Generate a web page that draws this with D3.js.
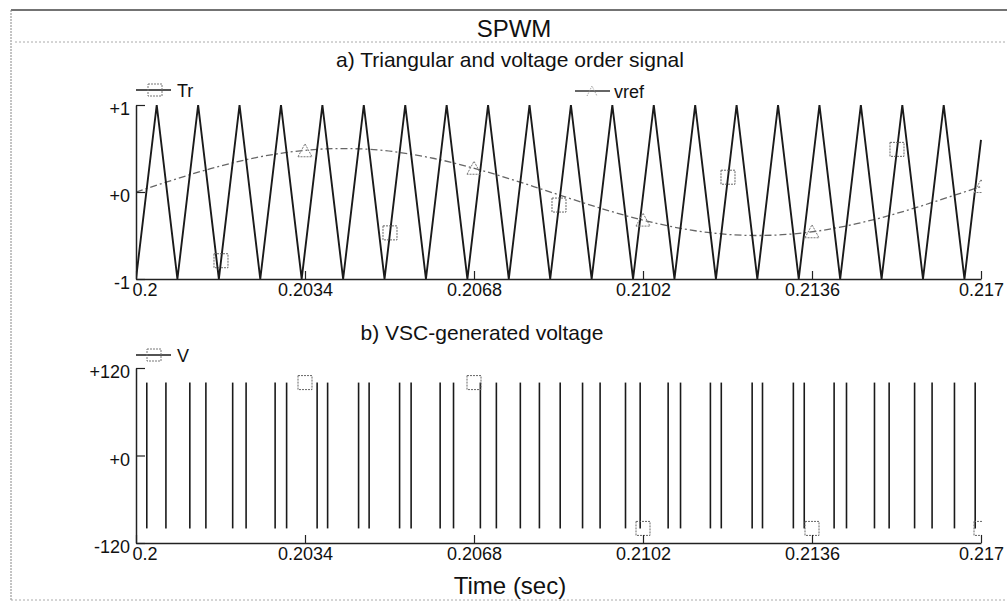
<!DOCTYPE html>
<html>
<head>
<meta charset="utf-8">
<script src="https://cdn.jsdelivr.net/npm/d3@7"></script>
<style>
  body { margin: 0; background: #fff; }
  svg text { font-family: "Liberation Sans", Arial, sans-serif; fill: #111; }
</style>
</head>
<body>
<div id="chart"></div>
<script>
// x axis (seconds)
const timeTicks = [0.2, 0.2034, 0.2068, 0.2102, 0.2136, 0.217];
const timeTickLabels = ["0.2", "0.2034", "0.2068", "0.2102", "0.2136", "0.217"];

// a) triangular carrier: corner points
const triT = [0.2, 0.200417, 0.200833, 0.20125, 0.201667, 0.202083, 0.2025, 0.202917, 0.203333, 0.20375,
  0.204167, 0.204583, 0.205, 0.205417, 0.205833, 0.20625, 0.206667, 0.207083, 0.2075, 0.207917,
  0.208333, 0.20875, 0.209167, 0.209583, 0.21, 0.210417, 0.210833, 0.21125, 0.211667, 0.212083,
  0.2125, 0.212917, 0.213333, 0.21375, 0.214167, 0.214583, 0.215, 0.215417, 0.215833, 0.21625,
  0.216667, 0.217];
const triV = [-1, 1, -1, 1, -1, 1, -1, 1, -1, 1,
  -1, 1, -1, 1, -1, 1, -1, 1, -1, 1,
  -1, 1, -1, 1, -1, 1, -1, 1, -1, 1,
  -1, 1, -1, 1, -1, 1, -1, 1, -1, 1,
  -1, 0.6];

// a) voltage order signal
const vrefT = [0.2, 0.2005, 0.201, 0.2015, 0.202, 0.2025, 0.203, 0.2035, 0.204, 0.2045,
  0.205, 0.2055, 0.206, 0.2065, 0.207, 0.2075, 0.208, 0.2085, 0.209, 0.2095,
  0.21, 0.2105, 0.211, 0.2115, 0.212, 0.2125, 0.213, 0.2135, 0.214, 0.2145,
  0.215, 0.2155, 0.216, 0.2165, 0.217];
const vrefV = [0, 0.094, 0.184, 0.268, 0.342, 0.405, 0.452, 0.484, 0.499, 0.496,
  0.476, 0.438, 0.385, 0.319, 0.241, 0.155, 0.063, -0.031, -0.124, -0.213,
  -0.294, -0.364, -0.422, -0.465, -0.491, -0.5, -0.491, -0.465, -0.422, -0.364,
  -0.294, -0.213, -0.124, -0.031, 0.063];

// marker positions
const trMarkT = [0.20171, 0.20511, 0.20851, 0.21191, 0.21531];
const trMarkV = [-0.79, -0.47, -0.15, 0.17, 0.49];
const vrefMarkT = [0.2034, 0.2068, 0.2102, 0.2136, 0.217];
const vrefMarkV = [0.474, 0.273, -0.323, -0.457, 0.063];

// b) VSC output: switching instants between +100 and -100
const vHigh = 100;
const vLow = -100;
const vEdges = [0.200217, 0.200602, 0.201083, 0.201406, 0.201945, 0.202215, 0.202799, 0.20303,
  0.203644, 0.203855, 0.204478, 0.20469, 0.205303, 0.205535, 0.206119, 0.206388,
  0.206928, 0.20725, 0.207732, 0.208116, 0.208534, 0.208984, 0.209337, 0.209848,
  0.210143, 0.210706, 0.210955, 0.211556, 0.211775, 0.212396, 0.212604, 0.213225,
  0.213444, 0.214045, 0.214294, 0.214857, 0.215152, 0.215664, 0.216016, 0.216466,
  0.216883];
const vMarkT = [0.2034, 0.2068, 0.2102, 0.2136, 0.217];
const vMarkV = [100, 100, -100, -100, -100];

(() => {
  const W = 1007, H = 603;
  const svg = d3.select("#chart").append("svg")
    .attr("width", W)
    .attr("height", H);

  const x = d3.scaleLinear().domain([0.2, 0.217]).range([136, 981]);
  const yA = d3.scaleLinear().domain([-1, 1]).range([279, 105]);
  const yB = d3.scaleLinear().domain([-120, 120]).range([543, 368]);

  // frame
  svg.append("line").attr("x1", 11).attr("x2", W).attr("y1", 10).attr("y2", 10)
    .attr("stroke", "#444").attr("stroke-width", 1.5);
  svg.append("line").attr("x1", 15).attr("x2", W).attr("y1", 42).attr("y2", 42)
    .attr("stroke", "#aaa").attr("stroke-dasharray", "2 2");
  svg.append("line").attr("x1", 11).attr("x2", 11).attr("y1", 10).attr("y2", 600)
    .attr("stroke", "#888").attr("stroke-dasharray", "2 1");
  svg.append("line").attr("x1", 11).attr("x2", W).attr("y1", 600).attr("y2", 600)
    .attr("stroke", "#aaa").attr("stroke-dasharray", "2 2");

  // titles
  svg.append("text").attr("x", 514).attr("y", 37).attr("text-anchor", "middle")
    .style("font-size", "24px").text("SPWM");
  svg.append("text").attr("x", 510).attr("y", 67).attr("text-anchor", "middle")
    .style("font-size", "21px").text("a) Triangular and voltage order signal");
  svg.append("text").attr("x", 482).attr("y", 340).attr("text-anchor", "middle")
    .style("font-size", "21px").text("b) VSC-generated voltage");
  svg.append("text").attr("x", 510).attr("y", 594).attr("text-anchor", "middle")
    .style("font-size", "24px").text("Time (sec)");

  const defs = svg.append("defs");
  defs.append("clipPath").attr("id", "clipA").append("rect")
    .attr("x", 136).attr("y", 95).attr("width", 846).attr("height", 195);
  defs.append("clipPath").attr("id", "clipB").append("rect")
    .attr("x", 136).attr("y", 360).attr("width", 846).attr("height", 190);

  function drawAxes(y, yTicks, yLabels) {
    const gx = svg.append("g")
      .attr("transform", `translate(0,${y.range()[0]})`)
      .call(d3.axisBottom(x).tickValues(timeTicks)
        .tickFormat((d, i) => timeTickLabels[i])
        .tickSizeInner(-8).tickSizeOuter(0).tickPadding(4));
    const gy = svg.append("g")
      .attr("transform", "translate(136,0)")
      .call(d3.axisLeft(y).tickValues(yTicks)
        .tickFormat((d, i) => yLabels[i])
        .tickSizeInner(-9).tickSizeOuter(0).tickPadding(6));
    [gx, gy].forEach(g => {
      g.attr("font-family", null).attr("font-size", null);
      g.select(".domain").attr("stroke", "#222").attr("stroke-width", 1.5);
      g.selectAll(".tick line").attr("stroke", "#222").attr("stroke-width", 1.2);
      g.selectAll("text").style("font-size", "18px").attr("fill", "#111");
    });
    gy.selectAll(".tick text").attr("dy", "0.55em");
    // first time label starts just right of the y labels
    gx.selectAll(".tick text").filter((d, i) => i === 0)
      .attr("text-anchor", "start").attr("x", -4);
  }

  function squares(g, ts, vs, y) {
    g.selectAll(null).data(ts).enter().append("rect")
      .attr("x", d => x(d) - 7)
      .attr("y", (d, i) => y(vs[i]) - 7)
      .attr("width", 14).attr("height", 14)
      .attr("fill", "none").attr("stroke", "#666")
      .attr("stroke-width", 1).attr("stroke-dasharray", "2 1");
  }

  function triangles(g, ts, vs, y) {
    g.selectAll(null).data(ts).enter().append("path")
      .attr("d", (d, i) => {
        const cx = x(d), cy = y(vs[i]);
        return `M${cx - 7},${cy + 6}L${cx},${cy - 7}L${cx + 7},${cy + 6}Z`;
      })
      .attr("fill", "none").attr("stroke", "#777")
      .attr("stroke-width", 1).attr("stroke-dasharray", "2 1");
  }

  // ---- a) triangular + vref
  const gA = svg.append("g").attr("clip-path", "url(#clipA)");

  const vrefData = vrefT.map((t, i) => ({ t, v: vrefV[i] }));
  gA.append("path")
    .datum(vrefData)
    .attr("fill", "none")
    .attr("stroke", "#666")
    .attr("stroke-width", 1.3)
    .attr("stroke-dasharray", "7 3 2 3")
    .attr("d", d3.line().x(d => x(d.t)).y(d => yA(d.v)).curve(d3.curveMonotoneX));

  const triData = triT.map((t, i) => ({ t, v: triV[i] }));
  gA.append("path")
    .datum(triData)
    .attr("fill", "none")
    .attr("stroke", "#1a1a1a")
    .attr("stroke-width", 1.9)
    .attr("d", d3.line().x(d => x(d.t)).y(d => yA(d.v)));

  squares(gA, trMarkT, trMarkV, yA);
  triangles(gA, vrefMarkT, vrefMarkV, yA);

  drawAxes(yA, [-1, 0, 1], ["-1", "+0", "+1"]);

  // legend a
  svg.append("line").attr("x1", 136).attr("x2", 171).attr("y1", 90).attr("y2", 90)
    .attr("stroke", "#1a1a1a").attr("stroke-width", 1.5);
  svg.append("rect").attr("x", 148).attr("y", 84).attr("width", 14).attr("height", 12)
    .attr("fill", "none").attr("stroke", "#777").attr("stroke-dasharray", "2 1");
  svg.append("text").attr("x", 177).attr("y", 97).style("font-size", "18px").text("Tr");

  svg.append("line").attr("x1", 575).attr("x2", 610).attr("y1", 91).attr("y2", 91)
    .attr("stroke", "#333").attr("stroke-width", 1.3);
  svg.append("path").attr("d", "M587,96L592,86L597,96")
    .attr("fill", "none").attr("stroke", "#999").attr("stroke-dasharray", "1 1");
  svg.append("text").attr("x", 614).attr("y", 98).style("font-size", "18px").text("vref");

  // ---- b) VSC voltage
  const gB = svg.append("g").attr("clip-path", "url(#clipB)");

  gB.selectAll(".edge")
    .data(vEdges)
    .enter().append("line")
    .attr("class", "edge")
    .attr("x1", d => x(d)).attr("x2", d => x(d))
    .attr("y1", yB(vHigh)).attr("y2", yB(vLow))
    .attr("stroke", "#1a1a1a")
    .attr("stroke-width", 1.6);

  squares(gB, vMarkT, vMarkV, yB);

  drawAxes(yB, [-120, 0, 120], ["-120", "+0", "+120"]);

  // legend b
  svg.append("line").attr("x1", 136).attr("x2", 171).attr("y1", 355).attr("y2", 355)
    .attr("stroke", "#1a1a1a").attr("stroke-width", 1.5);
  svg.append("rect").attr("x", 147).attr("y", 349).attr("width", 14).attr("height", 12)
    .attr("fill", "none").attr("stroke", "#777").attr("stroke-dasharray", "2 1");
  svg.append("text").attr("x", 177).attr("y", 362).style("font-size", "18px").text("V");
})();
</script>
</body>
</html>
